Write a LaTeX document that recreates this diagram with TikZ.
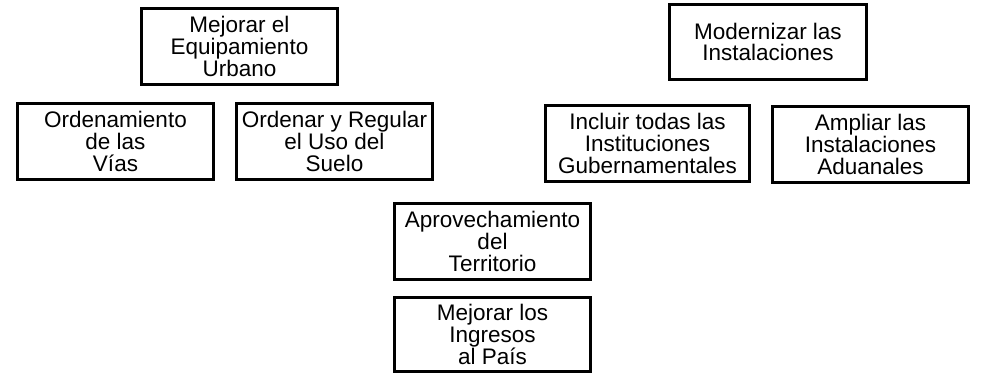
\documentclass[tikz,border=0pt]{standalone}
\usepackage{fontspec}
\setmainfont{Liberation Sans}
\begin{document}
\begin{tikzpicture}[x=1pt,y=1pt,
  box/.style={draw=black, line width=3pt, align=center, inner sep=0pt,
    minimum width=196pt, minimum height=76pt,
    font=\fontsize{22.5}{21.7}\selectfont}]
\useasboundingbox (0,0) rectangle (981,-377);
\node[box] (equip) at (239.5,-46.5) {Mejorar el\\Equipamiento\\Urbano};
\node[box] (vias) at (115.5,-141.5) {Ordenamiento\\de las\\Vías};
\node[box] (suelo) at (334.5,-141.5) {Ordenar y Regular\\el Uso del\\Suelo};
\node[box, minimum width=197pt, minimum height=75pt] (moder) at (768,-42) {Modernizar las\\Instalaciones};
\node[box, minimum width=204pt] (inst) at (647.5,-143.5) {Incluir todas las\\Instituciones\\Gubernamentales};
\node[box] (aduan) at (870.5,-144.5) {Ampliar las\\Instalaciones\\Aduanales};
\node[box] (terr) at (492.5,-241.5) {Aprovechamiento\\del\\Territorio};
\node[box, minimum height=74pt] (ingr) at (492.5,-334.5) {Mejorar los\\Ingresos\\al País};
\end{tikzpicture}
\end{document}
